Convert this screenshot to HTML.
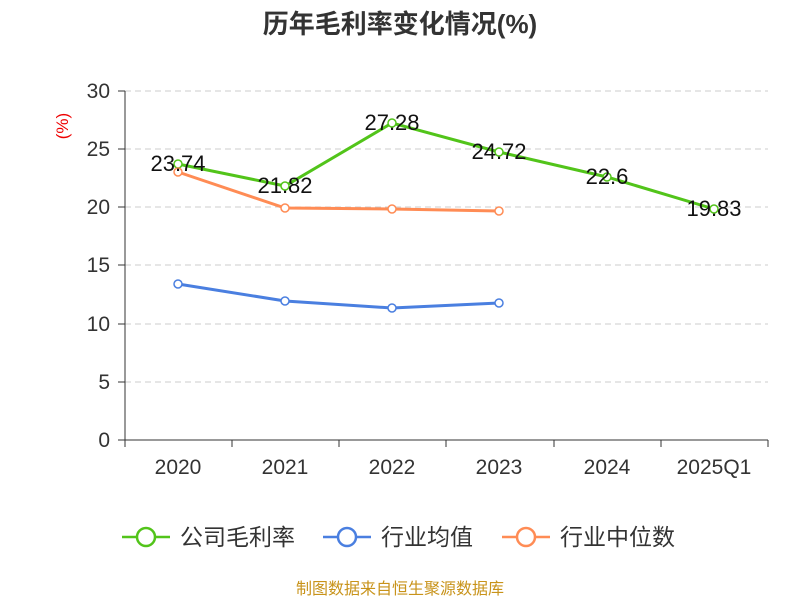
<!DOCTYPE html>
<html><head><meta charset="utf-8"><style>
body{margin:0;background:#fff;width:800px;height:600px;overflow:hidden}
text{font-family:"Liberation Sans","Noto Sans CJK SC",sans-serif}
</style></head><body>
<svg width="800" height="600" xmlns="http://www.w3.org/2000/svg">
<text x="400" y="33" text-anchor="middle" font-size="26" font-weight="bold" fill="#333">历年毛利率变化情况(%)</text>
<text x="68" y="126" font-size="17" fill="#e00" transform="rotate(-90 68 126)" text-anchor="middle">(%)</text>
<g stroke="#ccc" stroke-dasharray="6,4" stroke-width="1">
<line x1="125" x2="768" y1="91" y2="91"/><line x1="125" x2="768" y1="149" y2="149"/>
<line x1="125" x2="768" y1="207" y2="207"/><line x1="125" x2="768" y1="265" y2="265"/>
<line x1="125" x2="768" y1="324" y2="324"/><line x1="125" x2="768" y1="382" y2="382"/>
</g>
<g stroke="#333" stroke-width="1">
<line x1="125" x2="125" y1="91" y2="440"/><line x1="125" x2="768" y1="440" y2="440"/>
<line x1="118" x2="125" y1="91" y2="91"/><line x1="118" x2="125" y1="149" y2="149"/>
<line x1="118" x2="125" y1="207" y2="207"/><line x1="118" x2="125" y1="265" y2="265"/>
<line x1="118" x2="125" y1="324" y2="324"/><line x1="118" x2="125" y1="382" y2="382"/>
<line x1="118" x2="125" y1="440" y2="440"/>
<line x1="125" x2="125" y1="440" y2="447"/><line x1="232" x2="232" y1="440" y2="447"/>
<line x1="339" x2="339" y1="440" y2="447"/><line x1="446" x2="446" y1="440" y2="447"/>
<line x1="554" x2="554" y1="440" y2="447"/><line x1="661" x2="661" y1="440" y2="447"/>
<line x1="768" x2="768" y1="440" y2="447"/>
</g>
<g font-size="21" fill="#333" text-anchor="end">
<text x="110" y="98">30</text><text x="110" y="156">25</text><text x="110" y="214">20</text>
<text x="110" y="272">15</text><text x="110" y="331">10</text><text x="110" y="389">5</text><text x="110" y="447">0</text>
</g>
<g font-size="21" fill="#333" text-anchor="middle">
<text x="178" y="474">2020</text><text x="285" y="474">2021</text><text x="392" y="474">2022</text>
<text x="499" y="474">2023</text><text x="607" y="474">2024</text><text x="714" y="474">2025Q1</text>
</g>
<polyline fill="none" stroke="#52c41a" stroke-width="3" points="178,164 285,186 392,123 499,152 607,177 714,209"/>
<polyline fill="none" stroke="#ff8c55" stroke-width="3" points="178,172 285,208 392,209 499,211"/>
<polyline fill="none" stroke="#4a7fe0" stroke-width="3" points="178,284 285,301 392,308 499,303"/>
<g fill="#fff" stroke-width="1.5">
<g stroke="#52c41a"><circle cx="178" cy="164" r="4"/><circle cx="285" cy="186" r="4"/><circle cx="392" cy="123" r="4"/><circle cx="499" cy="152" r="4"/><circle cx="607" cy="177" r="4"/><circle cx="714" cy="209" r="4"/></g>
<g stroke="#ff8c55"><circle cx="178" cy="172" r="4"/><circle cx="285" cy="208" r="4"/><circle cx="392" cy="209" r="4"/><circle cx="499" cy="211" r="4"/></g>
<g stroke="#4a7fe0"><circle cx="178" cy="284" r="4"/><circle cx="285" cy="301" r="4"/><circle cx="392" cy="308" r="4"/><circle cx="499" cy="303" r="4"/></g>
</g>
<g font-size="22" fill="#111" text-anchor="middle">
<text x="178" y="171">23.74</text><text x="285" y="193">21.82</text><text x="392" y="130">27.28</text>
<text x="499" y="159">24.72</text><text x="607" y="184">22.6</text><text x="714" y="216">19.83</text>
</g>
<g stroke-width="2.5" fill="#fff">
<line x1="122" x2="170" y1="537" y2="537" stroke="#52c41a"/><circle cx="146" cy="537" r="9" stroke="#52c41a"/>
<line x1="323" x2="371" y1="537" y2="537" stroke="#4a7fe0"/><circle cx="347" cy="537" r="9" stroke="#4a7fe0"/>
<line x1="502" x2="550" y1="537" y2="537" stroke="#ff8c55"/><circle cx="526" cy="537" r="9" stroke="#ff8c55"/>
</g>
<g font-size="23" fill="#333">
<text x="180" y="545">公司毛利率</text><text x="381" y="545">行业均值</text><text x="560" y="545">行业中位数</text>
</g>
<text x="400" y="594" text-anchor="middle" font-size="16" fill="#c8931a">制图数据来自恒生聚源数据库</text>
</svg>
</body></html>
